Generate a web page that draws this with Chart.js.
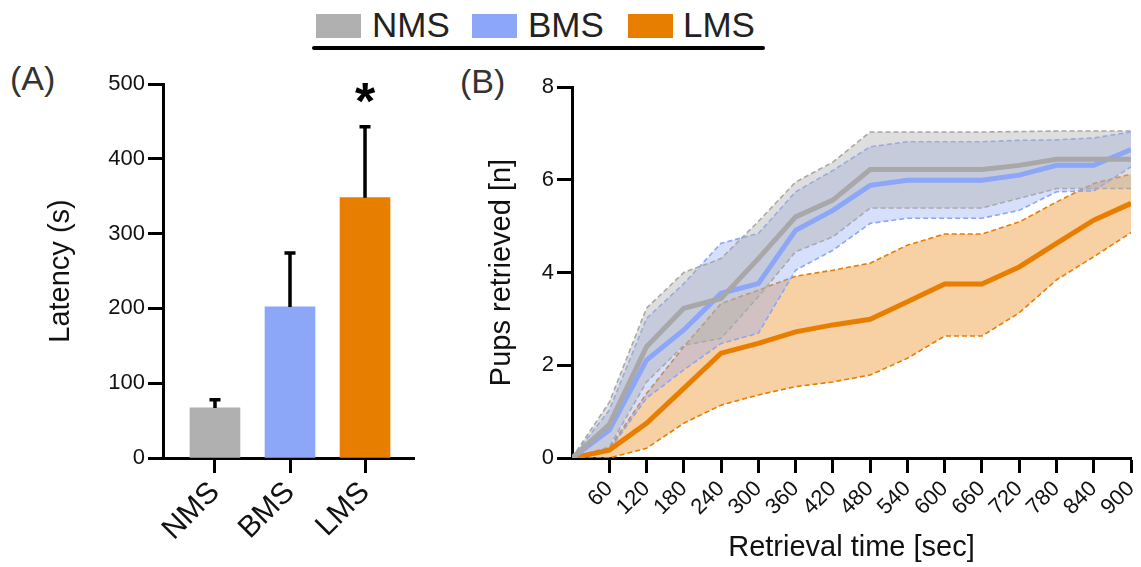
<!DOCTYPE html>
<html>
<head>
<meta charset="utf-8">
<title>Latency and pup retrieval</title>
<script src="https://cdn.jsdelivr.net/npm/chart.js@4.4.1/dist/chart.umd.min.js"></script>
<style>
  body { margin: 0; background: #fff; font-family: "Liberation Sans", Arial, sans-serif; }
  #page { position: relative; width: 1141px; height: 567px; overflow: hidden; }
  .abs { position: absolute; }
  .key { position: absolute; top: 14px; width: 45px; height: 24px; }
  .keyText { position: absolute; top: 7px; font-size: 35px; line-height: 35px; color: #222; }
  .panel { position: absolute; font-size: 34px; line-height: 34px; color: #333; }
  #rule { position: absolute; left: 312px; top: 46px; width: 453px; height: 4px; background: #000; border-radius: 2px; }
</style>
</head>
<body>
<div id="page">
  <!-- shared legend -->
  <div class="key" style="left:316px; background:#b0b0b0"></div>
  <div class="keyText" style="left:372px">NMS</div>
  <div class="key" style="left:472px; background:#8ca6f8"></div>
  <div class="keyText" style="left:528px">BMS</div>
  <div class="key" style="left:628px; background:#e87e00"></div>
  <div class="keyText" style="left:683px">LMS</div>
  <div id="rule"></div>

  <div class="panel" style="left:10px; top:61px">(A)</div>
  <div class="panel" style="left:460px; top:64px">(B)</div>

  <canvas id="barChart" class="abs" style="left:0; top:0" width="430" height="567"></canvas>
  <canvas id="lineChart" class="abs" style="left:430px; top:0" width="711" height="567"></canvas>
</div>

<script>
// Panel A: latency per group
const groups = ["NMS", "BMS", "LMS"];
const latencyMean = [67, 202, 348];
const latencySem = [11, 72, 95];
const significance = ["", "", "*"];
const latencyTicks = [0, 100, 200, 300, 400, 500];

// Panel B: pups retrieved over time (mean and upper / lower band)
const timePoints = [0, 60, 120, 180, 240, 300, 360, 420, 480, 540, 600, 660, 720, 780, 840, 900];
const timeTicks = [60, 120, 180, 240, 300, 360, 420, 480, 540, 600, 660, 720, 780, 840, 900];
const pupTicks = [0, 2, 4, 6, 8];

const nmsMean  = [0, 0.72, 2.4, 3.23, 3.44, 4.3, 5.2, 5.56, 6.22, 6.22, 6.22, 6.22, 6.31, 6.44, 6.44, 6.44];
const nmsUpper = [0, 1.2, 3.23, 4.0, 4.3, 5.1, 5.95, 6.38, 7.03, 7.03, 7.03, 7.03, 7.04, 7.05, 7.05, 7.05];
const nmsLower = [0, 0.24, 1.64, 2.43, 2.58, 3.48, 4.45, 4.77, 5.39, 5.39, 5.39, 5.39, 5.6, 5.81, 5.81, 5.81];

const bmsMean  = [0, 0.6, 2.11, 2.76, 3.55, 3.76, 4.91, 5.34, 5.88, 5.99, 5.99, 5.99, 6.1, 6.31, 6.31, 6.65];
const bmsUpper = [0, 1.03, 3.01, 3.76, 4.63, 4.84, 5.74, 6.2, 6.71, 6.82, 6.82, 6.82, 6.85, 6.86, 6.9, 7.03];
const bmsLower = [0, 0.17, 1.29, 1.9, 2.47, 2.69, 4.05, 4.48, 5.06, 5.17, 5.17, 5.17, 5.34, 5.74, 5.76, 6.28];

const lmsMean  = [0, 0.17, 0.75, 1.5, 2.26, 2.47, 2.72, 2.87, 2.99, 3.37, 3.75, 3.75, 4.12, 4.63, 5.13, 5.49];
const lmsUpper = [0, 0.21, 1.39, 2.4, 3.33, 3.62, 3.92, 4.05, 4.2, 4.59, 4.83, 4.83, 5.09, 5.52, 5.92, 6.12];
const lmsLower = [0, 0, 0.21, 0.75, 1.14, 1.36, 1.54, 1.64, 1.79, 2.15, 2.63, 2.63, 3.13, 3.84, 4.34, 4.86];

const colors = { NMS: "#b0b0b0", BMS: "#8ca6f8", LMS: "#e87e00" };

Chart.defaults.font.family = '"Liberation Sans", Arial, sans-serif';
Chart.defaults.color = "#111";

const axisGrid = { drawOnChartArea: false, offset: false, tickLength: 15, tickWidth: 3, tickColor: "#000" };
const axisBorder = { color: "#000", width: 3 };

// keep the plot area where the layout padding puts it
function noEdgePad(s) {
  s.paddingLeft = 0;
  s.paddingRight = 0;
  s.paddingTop = 0;
  s.paddingBottom = 0;
}

// error bars + asterisk on top of the bars
const errorBars = {
  id: "errorBars",
  afterDatasetsDraw(chart) {
    const { ctx, scales: { x, y } } = chart;
    ctx.save();
    ctx.strokeStyle = "#000";
    ctx.lineWidth = 3.5;
    latencyMean.forEach((m, i) => {
      const px = x.getPixelForValue(i + 1);
      const base = y.getPixelForValue(m);
      const top = y.getPixelForValue(m + latencySem[i]);
      ctx.beginPath();
      ctx.moveTo(px, base);
      ctx.lineTo(px, top);
      ctx.moveTo(px - 5.5, top);
      ctx.lineTo(px + 5.5, top);
      ctx.stroke();
      if (significance[i]) {
        ctx.fillStyle = "#000";
        ctx.font = 'bold 52px "Liberation Sans", Arial, sans-serif';
        ctx.textAlign = "center";
        ctx.textBaseline = "alphabetic";
        ctx.fillText(significance[i], px, top - 8);
      }
    });
    ctx.restore();
  }
};

new Chart(document.getElementById("barChart"), {
  type: "bar",
  data: {
    datasets: [{
      data: groups.map((g, i) => ({ x: i + 1, y: latencyMean[i] })),
      backgroundColor: groups.map(g => colors[g]),
      barThickness: 50
    }]
  },
  options: {
    responsive: false,
    animation: false,
    layout: { padding: { top: 84, right: 16, left: 0, bottom: 0 } },
    plugins: { legend: { display: false }, tooltip: { enabled: false } },
    scales: {
      x: {
        type: "linear",
        offset: false,
        min: 0.307,
        max: 3.653,
        afterBuildTicks: s => { s.ticks = groups.map((g, i) => ({ value: i + 1 })); },
        afterFit: s => { s.height = 109; noEdgePad(s); },
        ticks: {
          callback: v => groups[Math.round(v) - 1],
          minRotation: 45, maxRotation: 45, autoSkip: false,
          font: { size: 30 }, color: "#111", padding: 2
        },
        grid: axisGrid,
        border: axisBorder
      },
      y: {
        min: 0,
        max: 500,
        afterBuildTicks: s => { s.ticks = latencyTicks.map(v => ({ value: v })); },
        afterFit: s => { s.width = 163; noEdgePad(s); },
        ticks: { font: { size: 22 }, color: "#111", padding: 3 },
        grid: axisGrid,
        border: axisBorder,
        title: { display: true, text: "Latency (s)", font: { size: 29 }, color: "#111", padding: { top: 44 } }
      }
    }
  },
  plugins: [errorBars]
});

function pts(arr) {
  return timePoints.map((t, i) => ({ x: t, y: arr[i] }));
}

const bands = [
  { name: "NMS", mean: nmsMean, upper: nmsUpper, lower: nmsLower, line: "#a8a8a8", fill: "rgba(176,176,176,0.42)", order: 3 },
  { name: "BMS", mean: bmsMean, upper: bmsUpper, lower: bmsLower, line: "#8ca6f8", fill: "rgba(140,166,248,0.36)", order: 4 },
  { name: "LMS", mean: lmsMean, upper: lmsUpper, lower: lmsLower, line: "#e87e00", fill: "rgba(232,126,0,0.36)", order: 5 }
];

const lineSets = [];
bands.forEach((b, i) => {
  lineSets.push({ label: b.name, data: pts(b.mean), borderColor: b.line, borderWidth: 5, pointRadius: 0, fill: false, order: i });
});
bands.forEach(b => {
  lineSets.push({ label: b.name + " upper", data: pts(b.upper), borderColor: b.line, borderWidth: 1.6, borderDash: [5, 3], pointRadius: 0, fill: "+1", backgroundColor: b.fill, order: b.order });
  lineSets.push({ label: b.name + " lower", data: pts(b.lower), borderColor: b.line, borderWidth: 1.6, borderDash: [5, 3], pointRadius: 0, fill: false, order: b.order });
});

new Chart(document.getElementById("lineChart"), {
  type: "line",
  data: { datasets: lineSets },
  options: {
    responsive: false,
    animation: false,
    layout: { padding: { top: 87, right: 10, left: 0, bottom: 0 } },
    plugins: { legend: { display: false }, tooltip: { enabled: false } },
    elements: { line: { tension: 0 } },
    scales: {
      x: {
        type: "linear",
        offset: false,
        min: 0,
        max: 900,
        afterBuildTicks: s => { s.ticks = timeTicks.map(v => ({ value: v })); },
        afterFit: s => { s.height = 109; noEdgePad(s); },
        ticks: { minRotation: 45, maxRotation: 45, autoSkip: false, font: { size: 22 }, color: "#111", padding: 3 },
        grid: axisGrid,
        border: axisBorder,
        title: { display: true, text: "Retrieval time [sec]", font: { size: 29 }, color: "#111", padding: { bottom: 2 } }
      },
      y: {
        min: 0,
        max: 8,
        afterBuildTicks: s => { s.ticks = pupTicks.map(v => ({ value: v })); },
        afterFit: s => { s.width = 142; noEdgePad(s); },
        ticks: { font: { size: 22 }, color: "#111", padding: 3 },
        grid: axisGrid,
        border: axisBorder,
        title: { display: true, text: "Pups retrieved [n]", font: { size: 29 }, color: "#111", padding: { top: 55 } }
      }
    }
  }
});
</script>
</body>
</html>
